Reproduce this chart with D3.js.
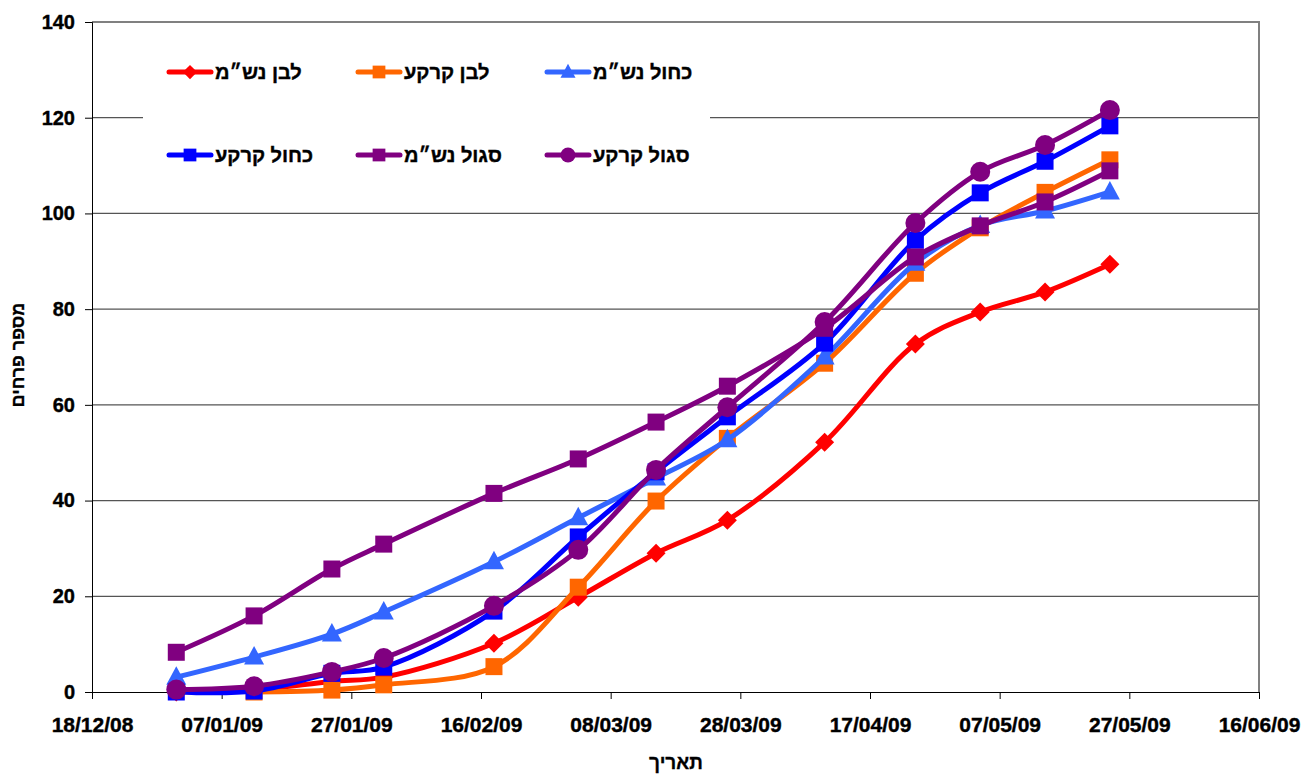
<!DOCTYPE html>
<html><head><meta charset="utf-8">
<script src="https://cdn.jsdelivr.net/npm/d3@7"></script>
<style>body{margin:0;background:#fff}</style>
</head><body><svg id="c" width="1305" height="774"></svg>
<script>
// ---- data ----
const dates = ["2008-12-31","2009-01-12","2009-01-24","2009-02-01","2009-02-18","2009-03-03","2009-03-15","2009-03-26","2009-04-10","2009-04-24","2009-05-04","2009-05-14","2009-05-24"];
const seriesNames = ["לבן נש״מ","לבן קרקע","כחול נש״מ","כחול קרקע","סגול נש״מ","סגול קרקע"];
const whiteNsm   = [0,0.5,2.2,3.1,10.2,19.8,29,35.9,52.2,72.7,79.4,83.6,89.4];
const whiteSoil  = [null,0,0.4,1.5,5.3,21.9,39.9,53,68.7,87.5,97,104.4,111.2];
const blueNsm    = [3.1,7.3,12.1,16.7,27.2,36.4,44.7,52.7,70,89.6,97.5,100.5,104.5];
const blueSoil   = [0,0.2,3.9,5.2,16.9,32.4,46,57.5,72.9,94.4,104.3,110.9,118.3];
const purpleNsm  = [8.3,15.9,25.7,30.9,41.5,48.7,56.4,63.9,76,90.9,97.4,102.4,108.9];
const purpleSoil = [0.5,1.2,4.2,7.1,18,29.7,46.4,59.5,77.3,98,108.7,114.3,121.6];
const yTickValues = [0,20,40,60,80,100,120,140];
const xTickLabels = ["18/12/08","07/01/09","27/01/09","16/02/09","08/03/09","28/03/09","17/04/09","07/05/09","27/05/09","16/06/09"];
const yTitle = "מספר פרחים";
const xTitle = "תאריך";

// ---- styles ----
const colors = ["#FF0000","#FF6600","#3366FF","#0000FF","#800080","#800080"];
const markers = ["diamond","square","triangle","square","square","circle"];
const allValues = [whiteNsm, whiteSoil, blueNsm, blueSoil, purpleNsm, purpleSoil];

const svg = d3.select("#c");
const parseISO = d3.utcParse("%Y-%m-%d");
const parseTick = d3.utcParse("%d/%m/%y");
const fmt = d3.utcFormat("%d/%m/%y");
const tickDates = xTickLabels.map(parseTick);

const L = 92, R = 1259, T = 22, B = 692;
const x = d3.scaleUtc().domain([tickDates[0], tickDates[tickDates.length-1]]).range([L, R]);
const y = d3.scaleLinear().domain([0, 140]).range([B, T]);
const font = "Arial, 'Liberation Sans', sans-serif";

// gridlines
svg.append("g").selectAll("line").data(yTickValues.filter(v => v > 0 && v < 140)).join("line")
  .attr("x1", L).attr("x2", R).attr("y1", d => y(d)).attr("y2", d => y(d))
  .attr("stroke", "#555").attr("stroke-width", 1.2);
// plot border top/right
svg.append("path").attr("d", `M${L},${y(140)}H${R}V${B}`).attr("fill","none").attr("stroke","#808080").attr("stroke-width",2);

// y axis
const yAxis = svg.append("g").attr("transform", `translate(${L},0)`)
  .call(d3.axisLeft(y).tickValues(yTickValues).tickSize(7).tickPadding(10));
yAxis.select(".domain").attr("stroke", "#000");
yAxis.selectAll(".tick line").attr("stroke", "#000");
yAxis.selectAll("text").attr("font-family", font).attr("font-weight", "bold").attr("font-size", 20).attr("fill","#000")
  .attr("stroke","#000").attr("stroke-width",0.4);

// x axis
const xAxis = svg.append("g").attr("transform", `translate(0,${B})`)
  .call(d3.axisBottom(x).tickValues(tickDates).tickFormat(fmt).tickSize(7).tickPadding(18));
xAxis.select(".domain").attr("stroke", "#000");
xAxis.selectAll(".tick line").attr("stroke", "#000");
xAxis.selectAll("text").attr("font-family", font).attr("font-weight", "bold").attr("font-size", 21).attr("fill","#000")
  .attr("stroke","#000").attr("stroke-width",0.4);

// legend background (covers gridline)
svg.append("rect").attr("x", 143).attr("y", 40).attr("width", 567).attr("height", 140).attr("fill", "#fff");

function markerPath(type) {
  if (type === "diamond") return "M0,-9.5L9.5,0L0,9.5L-9.5,0Z";
  if (type === "square") return "M-8.5,-8.5H8.5V8.5H-8.5Z";
  if (type === "triangle") return "M0,-11L10,7.5H-10Z";
  if (type === "circle") return "M10,0A10,10 0 1,1 -10,0A10,10 0 1,1 10,0Z";
}

const line = d3.line().defined(d => d.v != null).x(d => x(d.date)).y(d => y(d.v)).curve(d3.curveCatmullRom.alpha(0.5));

allValues.forEach((vals, i) => {
  const pts = dates.map((d, k) => ({date: parseISO(d), v: vals[k]}));
  const g = svg.append("g");
  g.append("path").datum(pts.filter(p => p.v != null)).attr("d", line)
    .attr("fill", "none").attr("stroke", colors[i]).attr("stroke-width", 5)
    .attr("stroke-linejoin", "round").attr("stroke-linecap", "round");
  g.selectAll("path.m").data(pts.filter(p => p.v != null)).join("path").attr("class","m")
    .attr("transform", d => `translate(${x(d.date)},${y(d.v)})`)
    .attr("d", markerPath(markers[i])).attr("fill", colors[i]);
});

// legend
const legendCols = [169, 358, 547];
const legendRows = [72, 155];
seriesNames.forEach((name, i) => {
  const cx = legendCols[i % 3], cy = legendRows[Math.floor(i / 3)];
  const g = svg.append("g");
  g.append("line").attr("x1", cx).attr("x2", cx + 42).attr("y1", cy).attr("y2", cy)
    .attr("stroke", colors[i]).attr("stroke-width", 5).attr("stroke-linecap","round");
  g.append("path").attr("d", markerPath(markers[i])).attr("fill", colors[i])
    .attr("transform", `translate(${cx + 21},${cy}) scale(0.75)`);
  g.append("text").attr("x", cx + 46).attr("y", cy + 7).attr("text-anchor","start")
    .attr("font-family", font).attr("font-weight","bold").attr("font-size", 20)
    .attr("stroke","#000").attr("stroke-width",0.4).text(name);
});

// axis titles
svg.append("text").attr("transform", `translate(24,355) rotate(-90)`).attr("text-anchor","middle")
  .attr("font-family", font).attr("font-weight","bold").attr("font-size", 18)
  .attr("stroke","#000").attr("stroke-width",0.3).text(yTitle);
svg.append("text").attr("x", 676).attr("y", 769).attr("text-anchor","middle")
  .attr("font-family", font).attr("font-weight","bold").attr("font-size", 19)
  .attr("stroke","#000").attr("stroke-width",0.3).text(xTitle);
</script>
</body></html>
